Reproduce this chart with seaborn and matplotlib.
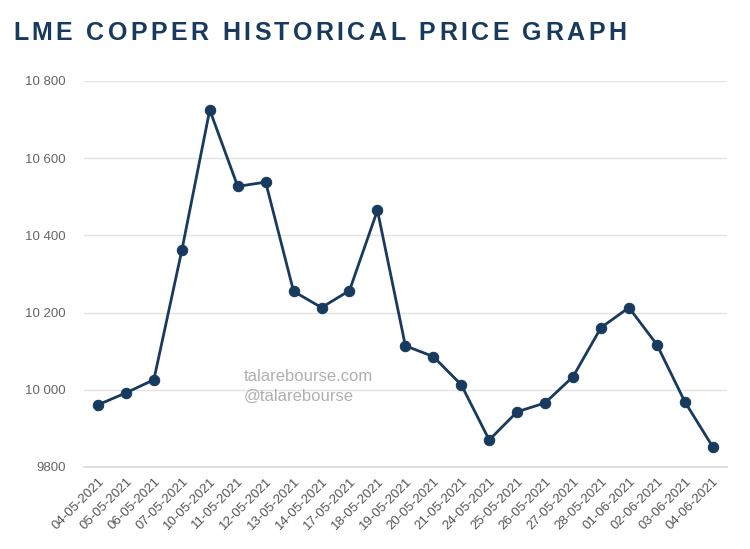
import numpy as np
import pandas as pd
import matplotlib
matplotlib.use('Agg')
import matplotlib.pyplot as plt
from matplotlib.ticker import FixedLocator, FuncFormatter
import seaborn as sns

# Données
dates = ['04-05-2021', '05-05-2021', '06-05-2021', '07-05-2021', '10-05-2021',
         '11-05-2021', '12-05-2021', '13-05-2021', '14-05-2021', '17-05-2021',
         '18-05-2021', '19-05-2021', '20-05-2021', '21-05-2021', '24-05-2021',
         '25-05-2021', '26-05-2021', '27-05-2021', '28-05-2021', '01-06-2021',
         '02-06-2021', '03-06-2021', '04-06-2021']
prices = [9961, 9992, 10026, 10361, 10725,
          10527, 10538, 10255, 10213, 10257,
          10465, 10114, 10086, 10013, 9870,
          9943, 9966, 10034, 10161, 10213,
          10117, 9969, 9852]
y_ticks = [9800, 10000, 10200, 10400, 10600, 10800]

TITLE = 'LME COPPER HISTORICAL PRICE GRAPH'
NAVY = '#173a5e'


def fmt_price(v, pos):
    v = int(v)
    if v < 10000:
        return str(v)
    return f'{v:,}'.replace(',', ' ')


def spaced_title(fig, text, x0, y, target_w, **kw):
    """Titre avec espacement des lettres (matplotlib n'a pas de tracking)."""
    renderer = fig.canvas.get_renderer()
    widths = []
    for ch in text:
        t = fig.text(0, 0, ch if ch != ' ' else 'I', **kw)
        w = t.get_window_extent(renderer).width
        if ch == ' ':
            w *= 1.0
        widths.append(w)
        t.remove()
    fw, fh = fig.get_size_inches() * fig.dpi
    extra = (target_w - sum(widths)) / (len(text) - 1)
    x = x0
    for ch, w in zip(text, widths):
        if ch != ' ':
            fig.text(x / fw, y, ch, ha='left', va='center', **kw)
        x += w + extra


sns.set_style('white')
plt.rcParams['font.family'] = ['Liberation Sans', 'DejaVu Sans']

df = pd.DataFrame({'date': dates, 'price': prices})
df['pos'] = np.arange(len(df))

fig = plt.figure(figsize=(7.5, 5.49), dpi=100)
ax = fig.add_axes([0.112, 0.1494, 0.857, 0.7031])

sns.lineplot(data=df, x='pos', y='price', ax=ax, color=NAVY, linewidth=2,
             marker='o', markersize=7.5, markeredgecolor=NAVY, markerfacecolor=NAVY)

ax.set_xlim(-0.5, len(dates) - 0.5)
ax.set_ylim(9800, 10800)
ax.set_yticks(y_ticks)
ax.yaxis.set_major_formatter(FuncFormatter(fmt_price))
ax.tick_params(axis='y', length=0, labelsize=9.5, labelcolor='#666666', pad=13)

ax.set_xticks(df['pos'])
ax.set_xticklabels(dates, rotation=45, ha='right', rotation_mode='anchor')
ax.tick_params(axis='x', which='major', length=0, labelsize=9.5, labelcolor='#555555', pad=6)
ax.xaxis.set_minor_locator(FixedLocator(np.arange(-0.5, len(dates), 1.0)))
ax.tick_params(axis='x', which='minor', length=8, width=1, color='#d9d9d9', direction='out')

ax.grid(axis='y', color='#e3e3e3', linewidth=1)
ax.set_axisbelow(True)
for s in ['left', 'right', 'top']:
    ax.spines[s].set_visible(False)
ax.spines['bottom'].set_color('#d9d9d9')
ax.spines['bottom'].set_linewidth(1.2)
ax.set_xlabel('')
ax.set_ylabel('')

spaced_title(fig, TITLE, 13, 0.94, 613, fontsize=18, fontweight='bold', color=NAVY,
             family='Liberation Sans')

# filigrane
fig.text(0.325, 0.314, 'talarebourse.com', fontsize=12, color='#b0b0b0', ha='left', va='center')
fig.text(0.325, 0.278, '@talarebourse', fontsize=12, color='#b0b0b0', ha='left', va='center')

fig.savefig('out.png', dpi=100)
